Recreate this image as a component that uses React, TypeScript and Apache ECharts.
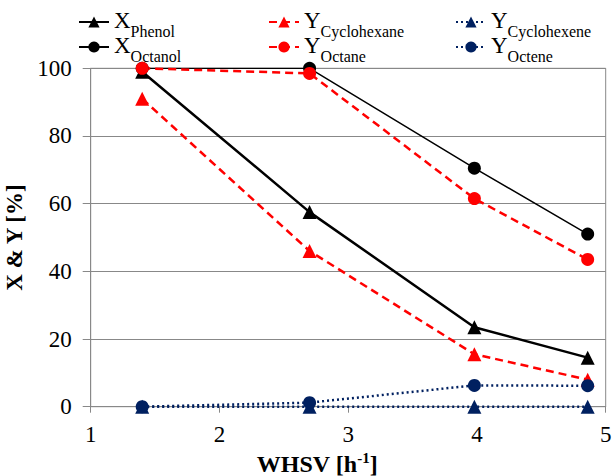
import React, { useEffect, useRef } from "react";
import * as echarts from "echarts";

const whsv = [1.4, 2.7, 3.98, 4.86];
const xPhenol = [99, 57.5, 23.5, 14.5];
const xOctanol = [100, 100, 70.5, 51];
const yCyclohexane = [91, 46, 15.5, 8];
const yOctane = [100, 98.5, 61.5, 43.5];
const yCyclohexene = [0, 0, 0, 0];
const yOctene = [0, 1.2, 6.3, 6.2];

const seriesNames = ["X_Phenol", "X_Octanol", "Y_Cyclohexane", "Y_Octane", "Y_Cyclohexene", "Y_Octene"];

const FONT = "Liberation Serif";
const NAVY = "#002060";
const RED = "#ff0000";
const GRAY = "#888888";

function pts(ys: number[]) {
  return whsv.map((x, i) => [x, ys[i]]);
}

const legendRich = {
  m: { fontSize: 23, fontFamily: FONT, color: "#000", lineHeight: 26, verticalAlign: "top" as const },
  s: { fontSize: 16, fontFamily: FONT, color: "#000", lineHeight: 12, padding: [14, 0, 0, 0], verticalAlign: "top" as const },
};

function legendFormatter(name: string) {
  const [main, sub] = name.split("_");
  return `{m|${main}}{s|${sub}}`;
}

export default function App() {
  const ref = useRef<HTMLDivElement>(null);
  useEffect(() => {
    if (!ref.current) return;
    const chart = echarts.init(ref.current, undefined, { renderer: "svg" });
    const mk = (name: string, data: number[], color: string, type: any, width: number, symbol: string, size: number) => ({
      name,
      type: "line",
      data: pts(data),
      symbol,
      symbolSize: size,
      showSymbol: true,
      lineStyle: { color, type, width },
      itemStyle: { color },
      z: 2,
    });
    const lg = (name: string, left: number, top: number) => ({
      orient: "horizontal" as const,
      left,
      top,
      padding: 0,
      itemWidth: 30,
      itemHeight: 14,
      formatter: legendFormatter,
      textStyle: { fontFamily: FONT, rich: legendRich },
      selectedMode: false,
      data: [name],
    });
    const rowTop = [9, 34];
    const colLeft = [78, 268, 455];
    chart.setOption({
      animation: false,
      textStyle: { fontFamily: FONT },
      grid: {
        left: 90.7,
        right: 7.3,
        top: 68.3,
        bottom: 69.3,
        containLabel: false,
        outerBoundsMode: "none",
        show: true,
        borderColor: GRAY,
        borderWidth: 1,
      },
      legend: [
        lg(seriesNames[0], colLeft[0], rowTop[0]),
        lg(seriesNames[1], colLeft[0], rowTop[1]),
        lg(seriesNames[2], colLeft[1], rowTop[0]),
        lg(seriesNames[3], colLeft[1], rowTop[1]),
        lg(seriesNames[4], colLeft[2], rowTop[0]),
        lg(seriesNames[5], colLeft[2], rowTop[1]),
      ],
      xAxis: {
        type: "value",
        min: 1,
        max: 5,
        interval: 1,
        name: "WHSV [h{sup|-1}]",
        nameLocation: "middle",
        nameGap: 35,
        nameTextStyle: {
          fontFamily: FONT,
          fontSize: 24,
          fontWeight: "bold",
          color: "#000",
          padding: [0, 62, 0, 0],
          rich: {
            sup: { fontFamily: FONT, fontSize: 15, fontWeight: "bold", color: "#000", padding: [0, 0, 12, 0] },
          },
        },
        axisLine: { show: true, lineStyle: { color: GRAY } },
        axisTick: { show: true, length: 6, lineStyle: { color: GRAY } },
        axisLabel: { fontFamily: FONT, fontSize: 23, color: "#000", margin: 16 },
        splitLine: { show: false },
      },
      yAxis: {
        type: "value",
        min: 0,
        max: 100,
        interval: 20,
        name: "X & Y [%]",
        nameLocation: "middle",
        nameGap: 50,
        nameTextStyle: { fontFamily: FONT, fontSize: 23, fontWeight: "bold", color: "#000" },
        axisLine: { show: true, lineStyle: { color: GRAY } },
        axisTick: { show: true, length: 8, lineStyle: { color: GRAY } },
        axisLabel: { fontFamily: FONT, fontSize: 23, color: "#000", margin: 19 },
        splitLine: { show: true, lineStyle: { color: GRAY, width: 1 } },
      },
      series: [
        mk(seriesNames[0], xPhenol, "#000000", "solid", 2.5, "triangle", 14),
        mk(seriesNames[1], xOctanol, "#000000", "solid", 1.5, "circle", 13),
        mk(seriesNames[2], yCyclohexane, RED, [8, 5], 2.5, "triangle", 14),
        mk(seriesNames[3], yOctane, RED, [8, 5], 2.5, "circle", 13),
        mk(seriesNames[4], yCyclohexene, NAVY, [2, 3], 2.5, "triangle", 14),
        mk(seriesNames[5], yOctene, NAVY, [2, 3], 2.5, "circle", 13),
      ],
    });
    return () => chart.dispose();
  }, []);
  return <div ref={ref} style={{ width: 613, height: 476, position: "absolute", left: 0, top: 0 }} />;
}
